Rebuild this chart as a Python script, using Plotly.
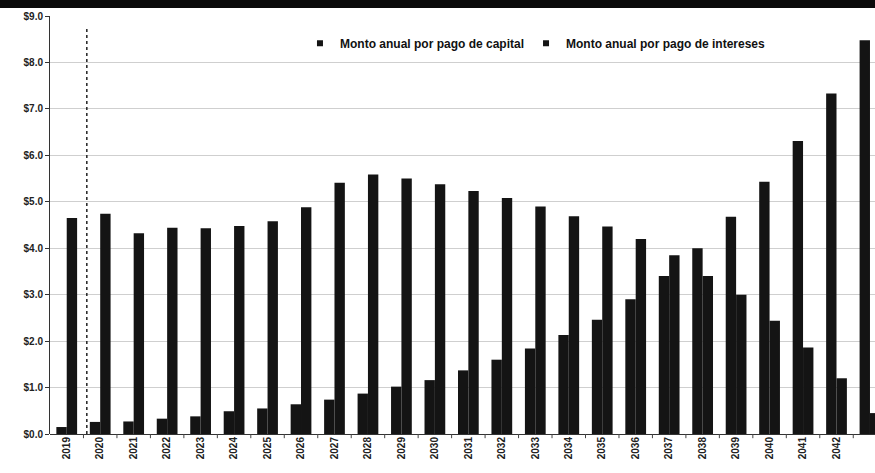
import plotly.graph_objects as go

years = [str(y) for y in range(2019, 2044)]
capital = [0.15, 0.26, 0.27, 0.33, 0.38, 0.49, 0.55, 0.64, 0.74, 0.87, 1.02, 1.16, 1.37,
           1.60, 1.84, 2.13, 2.46, 2.90, 3.40, 4.00, 4.68, 5.43, 6.31, 7.33, 8.48]
intereses = [4.65, 4.74, 4.32, 4.44, 4.43, 4.48, 4.58, 4.88, 5.41, 5.59, 5.50, 5.38, 5.23,
             5.08, 4.90, 4.69, 4.47, 4.20, 3.85, 3.40, 3.00, 2.44, 1.86, 1.20, 0.45]
series_names = ["Monto anual por pago de capital", "Monto anual por pago de intereses"]
y_ticks = [0, 1, 2, 3, 4, 5, 6, 7, 8, 9]
y_labels = ["$%.1f" % v for v in y_ticks]
divider_x = 0.6
divider_top = 8.75

BAR = "#141414"
FONT = "Liberation Sans Narrow, Liberation Sans, Arial"

fig = go.Figure()
xs = list(range(len(years)))
for name, vals, lg in zip(series_names, [capital, intereses], ["legend", "legend2"]):
    fig.add_trace(go.Bar(x=xs, y=vals, name=name, showlegend=False,
                         marker=dict(color=BAR, line=dict(width=0))))
    fig.add_trace(go.Scatter(x=[None], y=[None], mode="markers", name=name, legend=lg,
                             marker=dict(symbol="square", size=6, color=BAR)))

leg_common = dict(orientation="h", y=0.935, xanchor="left", yanchor="middle",
                  font=dict(size=12, color="#111", family=FONT, weight="bold"),
                  itemwidth=30, bgcolor="rgba(0,0,0,0)")
fig.update_layout(
    width=875, height=473,
    margin=dict(l=50, r=0, t=16, b=39),
    paper_bgcolor="white", plot_bgcolor="white",
    barmode="group", bargap=0.38, bargroupgap=0.0,
    font=dict(family=FONT, color="#222", size=9),
    legend=dict(x=0.303, **leg_common),
    legend2=dict(x=0.577, **leg_common),
    showlegend=True,
)
fig.update_xaxes(
    range=[-0.5, 24.15], tickmode="array", tickvals=xs, ticktext=years,
    tickangle=-90, tickfont=dict(size=10, color="#222", family=FONT, weight="bold"),
    showgrid=False, zeroline=False, showline=False,
    ticks="", fixedrange=True,
)
fig.update_yaxes(
    range=[0, 9], tickmode="array", tickvals=y_ticks, ticktext=y_labels,
    tickfont=dict(size=10, color="#222", family=FONT, weight="bold"),
    showgrid=True, gridcolor="#cfcfcf", gridwidth=1,
    showline=True, linecolor="#333", linewidth=1,
    ticks="outside", ticklen=4, tickcolor="#333",
    zeroline=True, zerolinecolor="#333", zerolinewidth=1,
)
# category boundary ticks on the x axis
for i in range(len(years)):
    fig.add_shape(type="line", xref="x", yref="paper", x0=i + 0.5, x1=i + 0.5, y0=0, y1=-0.01,
                  line=dict(color="#444", width=1))
# dotted divider line
fig.add_shape(type="line", xref="x", yref="y", x0=divider_x, x1=divider_x, y0=0, y1=divider_top,
              line=dict(color="#222", width=1.5, dash="dot"))
# black band at top
fig.add_shape(type="rect", xref="paper", yref="paper", x0=-0.1, x1=1.1, y0=1.019, y1=1.05,
              fillcolor="#0a0a0a", line=dict(width=0), layer="above")

fig.write_html("out.html")
